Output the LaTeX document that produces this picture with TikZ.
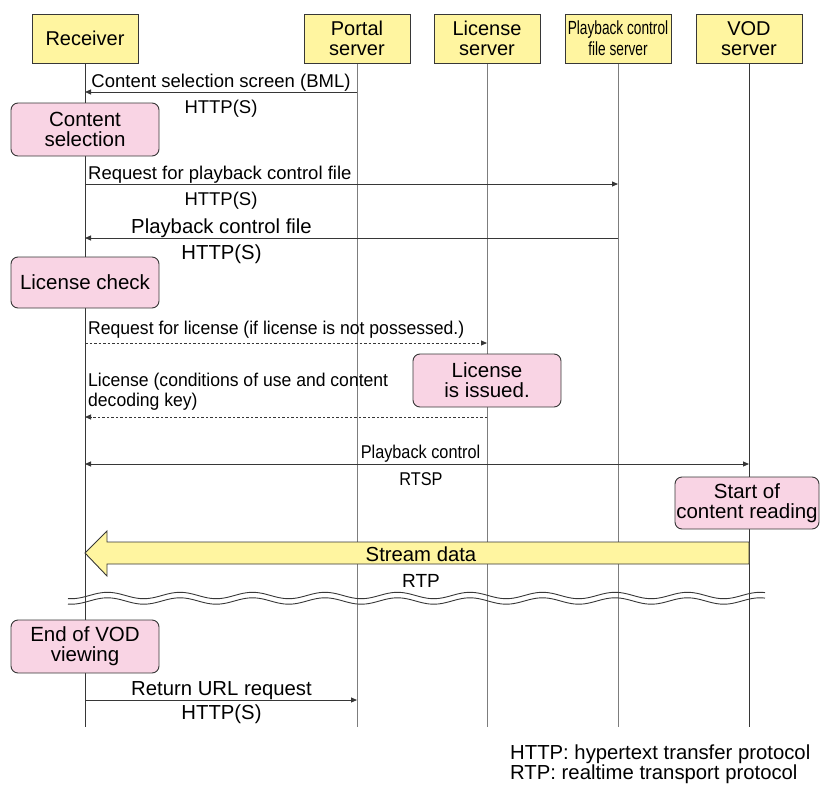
\documentclass[tikz,border=0pt]{standalone}
\usepackage{fontspec}
\setmainfont{Liberation Sans}
\newfontfamily\condA[FakeStretch=0.72]{Liberation Sans}
\newfontfamily\condB[FakeStretch=0.88]{Liberation Sans}
\newfontfamily\condC[FakeStretch=0.95]{Liberation Sans}
\usetikzlibrary{arrows.meta}
\definecolor{hdrY}{RGB}{255,245,160}
\definecolor{pinkF}{RGB}{249,212,228}
\definecolor{edgeC}{RGB}{55,55,55}
\definecolor{lifeC}{RGB}{125,125,125}
\begin{document}
\begin{tikzpicture}[x=1pt,y=-1pt,
  hdr/.style={draw=edgeC, fill=hdrY, line width=1pt, minimum width=106pt, minimum height=49pt, align=center, inner sep=0pt, font=\fontsize{20}{20}\selectfont},
  pbox/.style={draw=edgeC, fill=pinkF, line width=0.9pt, rounded corners=7pt, align=center, inner sep=0pt, font=\fontsize{20.5}{20}\selectfont},
  life/.style={draw=lifeC, line width=1pt},
  lifeD/.style={draw=edgeC, line width=1pt},
  msg/.style={draw=edgeC, line width=0.9pt, -{Triangle[length=6pt,width=5pt]}},
  lbl/.style={inner sep=0pt, font=\fontsize{18.5}{20}\selectfont},
  lblL/.style={inner sep=0pt, font=\fontsize{20.3}{20}\selectfont},
  wave/.style={draw=edgeC, line width=0.9pt},
]
\useasboundingbox (0,0) rectangle (820,787);

% headers
\node[hdr] (rcv) at (85,38.5) {Receiver};
\node[hdr] (pts) at (357,38.5) {Portal\\server};
\node[hdr] (lic) at (487,38.5) {License\\server};
\node[hdr, font=\fontsize{19}{21}\condA] (pcf) at (618,38.5) {Playback control\\file server};
\node[hdr] (vod) at (749,38.5) {VOD\\server};

% lifelines
\coordinate (rcvE) at (85,727);
\coordinate (ptsE) at (357,727);
\coordinate (licE) at (487,727);
\coordinate (pcfE) at (618,727);
\coordinate (vodE) at (749,727);
\draw[lifeD] (rcv.south) -- (rcvE);
\draw[life] (pts.south) -- (ptsE);
\draw[life] (lic.south) -- (licE);
\draw[life] (pcf.south) -- (pcfE);
\draw[lifeD] (vod.south) -- (vodE);

% message 1
\draw[msg] (pts |- 0,92) -- (rcv |- 0,92);
\node[lbl, anchor=base] (m1) at (221,87) {Content selection screen (BML)};
\node[lbl, anchor=base] (p1) at (221,113) {HTTP(S)};

\node[pbox, minimum width=148pt, minimum height=53pt] (cs) at (85,129.5) {Content\\selection};

% message 2
\draw[msg] (rcv |- 0,184) -- (pcf |- 0,184);
\node[lbl, anchor=base west] (m2) at (88,179) {Request for playback control file};
\node[lbl, anchor=base] (p2) at (221,205) {HTTP(S)};

% message 3
\draw[msg] (pcf |- 0,238) -- (rcv |- 0,238);
\node[lblL, anchor=base] (m3) at (221.5,233) {Playback control file};
\node[lblL, anchor=base] (p3) at (221.5,259) {HTTP(S)};

\node[pbox, minimum width=148pt, minimum height=51pt] (lc) at (85,282.5) {License check};

% message 4
\draw[msg, dash pattern=on 2.5pt off 2pt] (rcv |- 0,343) -- (lic |- 0,343);
\node[lbl, anchor=base west, font=\fontsize{18.5}{20}\condC] (m4) at (88,334) {Request for license (if license is not possessed.)};

\node[pbox, minimum width=148pt, minimum height=53pt] (li) at (487,380.5) {License\\is issued.};

% message 5
\draw[msg, dash pattern=on 2.5pt off 2pt] (lic |- 0,417) -- (rcv |- 0,417);
\node[lbl, anchor=base west, font=\fontsize{18.5}{20}\condC] (m5a) at (88,386) {License (conditions of use and content};
\node[lbl, anchor=base west, font=\fontsize{18.5}{20}\condC] (m5b) at (88,406) {decoding key)};

% message 6
\draw[msg, {Triangle[length=6pt,width=5pt]}-{Triangle[length=6pt,width=5pt]}] (rcv |- 0,464) -- (vod |- 0,464);
\node[lbl, anchor=base, font=\fontsize{18.5}{20}\condB] (m6) at (420.5,458) {Playback control};
\node[lbl, anchor=base, font=\fontsize{18.5}{20}\condB] (p6) at (421,485) {RTSP};

\node[pbox, minimum width=144pt, minimum height=52pt] (sc) at (747,503) {Start of\\content reading};

% stream data
\coordinate (stTip) at (85,553);
\coordinate (stEnd) at (749,553);
\draw[draw=edgeC, fill=hdrY, line width=0.9pt, line join=miter]
  (stTip) -- (107,531) -- (107,542) -- (stEnd |- 0,542) -- (stEnd |- 0,564) -- (107,564) -- (107,576) -- cycle;
\node[lblL, anchor=base] (sd) at (421,561) {Stream data};
\node[lbl, font=\fontsize{19}{20}\selectfont, anchor=base] (rtp) at (421,587) {RTP};

% break symbol
\draw[wave] plot[domain=68:765, samples=300, smooth] (\x, {595.5 - 3.2*cos((\x-180)*4.9655)});
\draw[wave] plot[domain=68:765, samples=300, smooth] (\x, {601 - 3.2*cos((\x-180)*4.9655)});

\node[pbox, minimum width=148pt, minimum height=53pt] (ev) at (85,646.5) {End of VOD\\viewing};

% message 7
\draw[msg] (rcv |- 0,700) -- (pts |- 0,700);
\node[lblL, anchor=base] (m7) at (221.5,695) {Return URL request};
\node[lblL, anchor=base] (p7) at (221.5,719) {HTTP(S)};

% footnotes
\node[lblL, anchor=base west] (f1) at (510,759) {HTTP: hypertext transfer protocol};
\node[lblL, anchor=base west] (f2) at (510,779) {RTP: realtime transport protocol};
\end{tikzpicture}
\end{document}
